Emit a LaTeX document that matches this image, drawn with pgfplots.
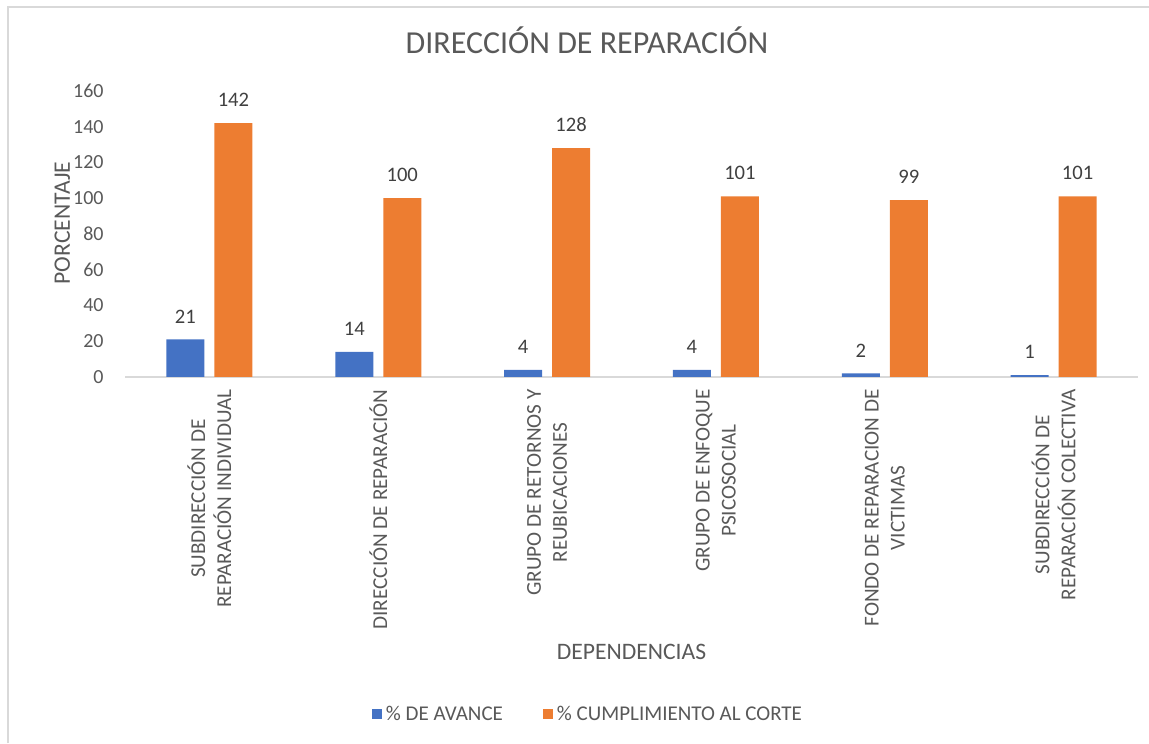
\documentclass[border=0pt]{standalone}
\usepackage{pgfplots}
\pgfplotsset{compat=1.18}
\usepackage{fontspec}
\setmainfont{Carlito}
\definecolor{AvBlue}{HTML}{4472C4}
\definecolor{CumOrange}{HTML}{ED7D31}
\definecolor{TxtGray}{HTML}{595959}
\definecolor{LblGray}{HTML}{404040}
\definecolor{AxGray}{HTML}{D9D9D9}
\begin{document}
\begin{tikzpicture}
\useasboundingbox (0,0) rectangle (574.5pt,371.5pt);
% chart area frame (only top and left visible in the reference)
\draw[AxGray, line width=0.6pt] (4pt,0) -- (4pt,368pt) -- (574.5pt,368pt);
\begin{axis}[
    at={(62.5pt,183pt)}, anchor=south west,
    scale only axis,
    width=506.5pt, height=143pt,
    ybar, bar width=19pt,
    ymin=0, ymax=160, ytick={0,20,...,160},
    xmin=-0.5, xmax=5.5,
    xtick={0,1,2,3,4,5},
    xticklabels={
        {SUBDIRECCIÓN DE\\REPARACIÓN INDIVIDUAL},
        {DIRECCIÓN DE REPARACIÓN},
        {GRUPO DE RETORNOS Y\\REUBICACIONES},
        {GRUPO DE ENFOQUE\\PSICOSOCIAL},
        {FONDO DE REPARACION DE\\VICTIMAS},
        {SUBDIRECCIÓN DE\\REPARACIÓN COLECTIVA}},
    axis x line*=bottom, axis y line*=left,
    x axis line style={AxGray, line width=1pt},
    y axis line style={draw=none},
    major tick length=0pt,
    tick label style={font=\fontsize{10}{12.5}\selectfont, text=TxtGray},
    /pgf/number format/assume math mode=true,
    xticklabel style={rotate=90, anchor=east, align=center, inner sep=0pt,
        font=\fontsize{10.6}{13}\selectfont},
    xticklabel shift=6pt,
    yticklabel style={anchor=east, inner sep=0pt},
    yticklabel shift=10.5pt,
    title={DIRECCIÓN DE REPARACIÓN},
    title style={at={(axis description cs:0.456,1.135)}, anchor=center,
        font=\fontsize{16}{19}\selectfont, text=TxtGray},
    xlabel={DEPENDENCIAS},
    xlabel style={at={(axis description cs:0.5,-0.96)}, anchor=center,
        font=\fontsize{11.8}{14}\selectfont, text=TxtGray},
    ylabel={PORCENTAJE},
    ylabel style={at={(axis description cs:-0.062,0.538)}, anchor=center,
        font=\fontsize{11.8}{14}\selectfont, text=TxtGray},
    nodes near coords,
    every node near coord/.append style={font=\fontsize{10.3}{12}\selectfont,
        text=LblGray, anchor=south, inner sep=0pt, yshift=8pt},
    legend columns=2,
    legend style={at={(axis description cs:0.458,-1.18)}, anchor=center,
        draw=none, font=\fontsize{10.5}{12}\selectfont, text=TxtGray,
        /tikz/every even column/.append style={column sep=18pt}},
    legend image code/.code={\fill[#1] (0pt,-2.5pt) rectangle (5pt,2.5pt);},
]
\addplot[fill=AvBlue, draw=none, bar shift=-12pt]
    coordinates {(0,21) (1,14) (2,4) (3,4) (4,2) (5,1)};
\addplot[fill=CumOrange, draw=none, bar shift=12pt]
    coordinates {(0,142) (1,100) (2,128) (3,101) (4,99) (5,101)};
\legend{\% DE AVANCE, \% CUMPLIMIENTO AL CORTE}
\end{axis}
\end{tikzpicture}
\end{document}
